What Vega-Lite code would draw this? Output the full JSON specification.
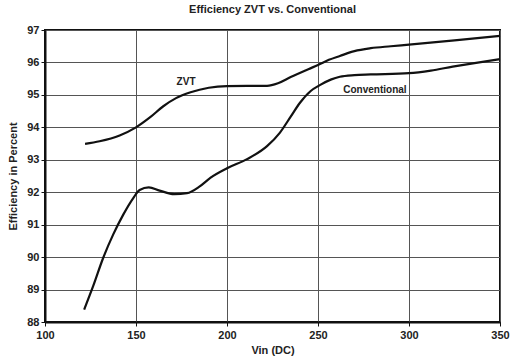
{
  "$schema": "https://vega.github.io/schema/vega-lite/v6.json",
  "width": 455,
  "height": 292,
  "autosize": "none",
  "padding": {"left": 45, "top": 30, "right": 14, "bottom": 41},
  "background": "white",
  "title": {"text": "Efficiency ZVT vs. Conventional", "font": "Liberation Sans", "fontSize": 11, "fontWeight": "bold", "color": "#222", "offset": 9, "anchor": "middle"},
  "config": {
    "view": {"stroke": "#111", "strokeWidth": 2},
    "axis": {"labelFont": "Liberation Sans", "labelFontWeight": "bold", "labelFontSize": 11, "labelColor": "#222", "labelFlush": false, "labelOverlap": false, "titleFont": "Liberation Sans", "titleFontWeight": "bold", "titleFontSize": 11, "titleColor": "#222", "gridColor": "#555", "gridOpacity": 1, "gridWidth": 1, "domainColor": "#111", "domainWidth": 2, "tickColor": "#111", "tickSize": 4}
  },
  "datasets": {
    "curves": [
      {"vin": 122, "eff": 93.49, "series": "ZVT"},
      {"vin": 130, "eff": 93.57, "series": "ZVT"},
      {"vin": 141, "eff": 93.75, "series": "ZVT"},
      {"vin": 150, "eff": 94.0, "series": "ZVT"},
      {"vin": 158, "eff": 94.32, "series": "ZVT"},
      {"vin": 165, "eff": 94.65, "series": "ZVT"},
      {"vin": 172, "eff": 94.9, "series": "ZVT"},
      {"vin": 180, "eff": 95.08, "series": "ZVT"},
      {"vin": 190, "eff": 95.22, "series": "ZVT"},
      {"vin": 200, "eff": 95.27, "series": "ZVT"},
      {"vin": 222, "eff": 95.28, "series": "ZVT"},
      {"vin": 228, "eff": 95.36, "series": "ZVT"},
      {"vin": 235, "eff": 95.55, "series": "ZVT"},
      {"vin": 245, "eff": 95.8, "series": "ZVT"},
      {"vin": 250, "eff": 95.92, "series": "ZVT"},
      {"vin": 256, "eff": 96.08, "series": "ZVT"},
      {"vin": 262, "eff": 96.2, "series": "ZVT"},
      {"vin": 270, "eff": 96.35, "series": "ZVT"},
      {"vin": 279, "eff": 96.44, "series": "ZVT"},
      {"vin": 290, "eff": 96.5, "series": "ZVT"},
      {"vin": 300, "eff": 96.55, "series": "ZVT"},
      {"vin": 325, "eff": 96.68, "series": "ZVT"},
      {"vin": 350, "eff": 96.82, "series": "ZVT"},
      {"vin": 121.5, "eff": 88.38, "series": "Conventional"},
      {"vin": 126.5, "eff": 89.11, "series": "Conventional"},
      {"vin": 132, "eff": 89.98, "series": "Conventional"},
      {"vin": 137.5, "eff": 90.7, "series": "Conventional"},
      {"vin": 143, "eff": 91.31, "series": "Conventional"},
      {"vin": 148.5, "eff": 91.82, "series": "Conventional"},
      {"vin": 152, "eff": 92.07, "series": "Conventional"},
      {"vin": 157, "eff": 92.15, "series": "Conventional"},
      {"vin": 163, "eff": 92.05, "series": "Conventional"},
      {"vin": 171, "eff": 91.94, "series": "Conventional"},
      {"vin": 178, "eff": 91.97, "series": "Conventional"},
      {"vin": 185, "eff": 92.18, "series": "Conventional"},
      {"vin": 191, "eff": 92.45, "series": "Conventional"},
      {"vin": 200, "eff": 92.74, "series": "Conventional"},
      {"vin": 211, "eff": 93.02, "series": "Conventional"},
      {"vin": 222, "eff": 93.42, "series": "Conventional"},
      {"vin": 229, "eff": 93.83, "series": "Conventional"},
      {"vin": 235, "eff": 94.33, "series": "Conventional"},
      {"vin": 240, "eff": 94.75, "series": "Conventional"},
      {"vin": 246, "eff": 95.12, "series": "Conventional"},
      {"vin": 251, "eff": 95.3, "series": "Conventional"},
      {"vin": 257, "eff": 95.47, "series": "Conventional"},
      {"vin": 262, "eff": 95.56, "series": "Conventional"},
      {"vin": 270, "eff": 95.61, "series": "Conventional"},
      {"vin": 279, "eff": 95.63, "series": "Conventional"},
      {"vin": 300, "eff": 95.67, "series": "Conventional"},
      {"vin": 312, "eff": 95.75, "series": "Conventional"},
      {"vin": 324, "eff": 95.87, "series": "Conventional"},
      {"vin": 336, "eff": 95.98, "series": "Conventional"},
      {"vin": 350, "eff": 96.1, "series": "Conventional"}
    ],
    "labels": [
      {"vin": 177.5, "eff": 95.4, "label": "ZVT"},
      {"vin": 281.3, "eff": 95.15, "label": "Conventional"}
    ]
  },
  "encoding": {
    "x": {"field": "vin", "type": "quantitative", "scale": {"domain": [100, 350], "nice": false, "zero": false}, "axis": {"values": [100, 150, 200, 250, 300, 350], "title": "Vin (DC)", "titlePadding": 4, "labelPadding": 3}},
    "y": {"field": "eff", "type": "quantitative", "scale": {"domain": [88, 97], "nice": false, "zero": false}, "axis": {"values": [88, 89, 90, 91, 92, 93, 94, 95, 96, 97], "title": "Efficiency in Percent", "titlePadding": 8, "labelPadding": 2}}
  },
  "layer": [
    {
      "data": {"name": "curves"},
      "mark": {"type": "line", "interpolate": "monotone", "strokeWidth": 2.2, "color": "#111"},
      "encoding": {
        "detail": {"field": "series"}
      }
    },
    {
      "data": {"name": "labels"},
      "mark": {"type": "text", "font": "Liberation Sans", "fontWeight": "bold", "fontSize": 10, "color": "#222"},
      "encoding": {
        "text": {"field": "label"}
      }
    }
  ]
}
